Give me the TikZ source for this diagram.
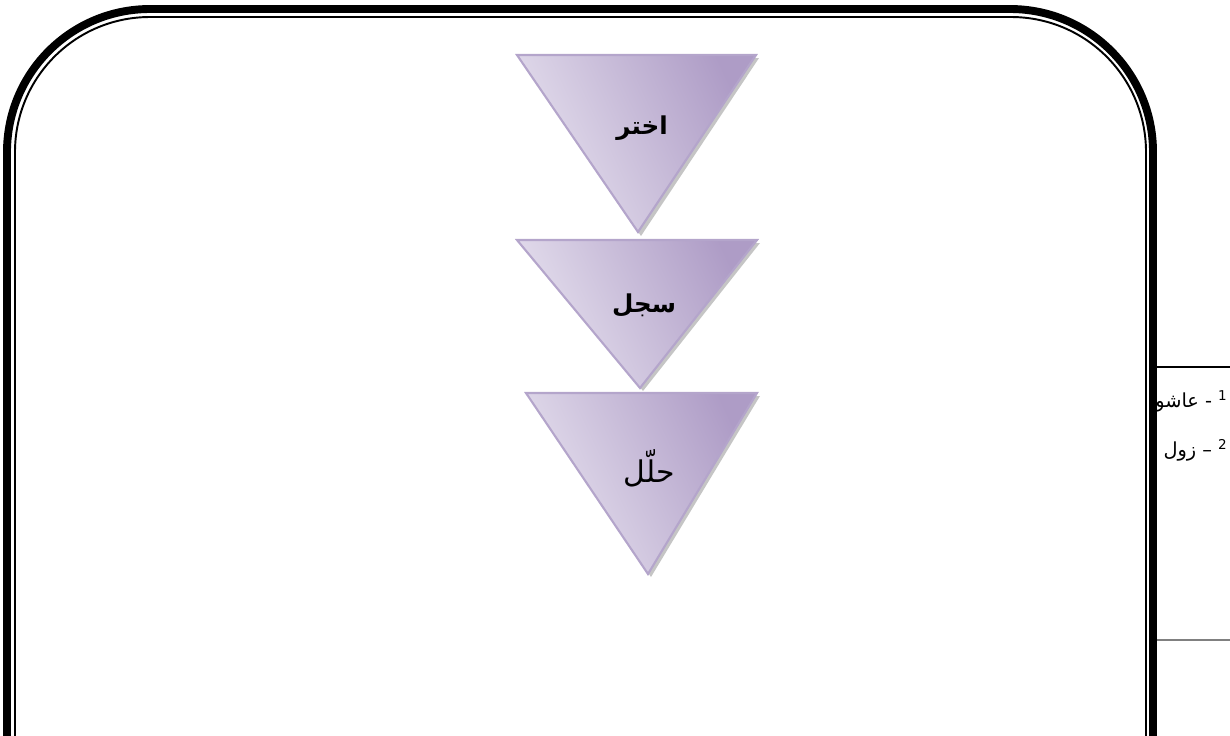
\documentclass[tikz,border=0pt]{standalone}
\usepackage{fontspec}
\setmainfont{DejaVu Sans}
\newfontfamily\arabicfont[Script=Arabic]{DejaVu Sans}
\TeXXeTstate=1
\usepackage{xcolor}
\usetikzlibrary{positioning,calc}
\definecolor{lavlight}{HTML}{E7E2EF}
\definecolor{lavmid}{HTML}{D9D1E5}
\definecolor{lavdark}{HTML}{AE9CC6}
\definecolor{lavedge}{HTML}{B4A5CB}

\begin{document}
\begin{tikzpicture}[x=0.02cm,y=-0.02cm,
    tri/.style={draw=lavedge,line width=1.2pt,line join=miter,
                left color=lavlight,middle color=lavmid,right color=lavdark,shading angle=115},
    trishadow/.style={fill=black!45,opacity=0.5},
    word/.style={font=\arabicfont\fontsize{14}{16}\selectfont\bfseries,inner sep=0pt},
    note/.style={font=\arabicfont\fontsize{11}{13}\selectfont,inner sep=0pt,anchor=base east}]
      \useasboundingbox (0,0) rectangle (1230,735);

      % the three steps
      \fill[trishadow] (520,58) -- (759,58) -- (641,236) -- cycle;
      \path[tri] (517,55) -- (756,55) -- (638,232) -- cycle;
      \fill[trishadow] (520,243) -- (760,243) -- (643,391) -- cycle;
      \path[tri] (517,240) -- (757,240) -- (640,388) -- cycle;
      \fill[trishadow] (529,396) -- (760,396) -- (651,577) -- cycle;
      \path[tri] (526,393) -- (757,393) -- (648,574) -- cycle;

      \node[word] (choose) at (642,128) {\beginR اختر\endR};
      \node[word] (record) at (644,305) {\beginR سجل\endR};
      \node[word,font=\arabicfont\fontsize{17}{19}\selectfont] (analyse) at (649,468) {\beginR حلّل\endR};

      % footnotes behind the frame
      \draw[line width=0.6pt] (1157,367) -- (1230,367);
      \draw[gray,line width=1.1pt] (1157,640) -- (1230,640);
      \begin{scope}
        \clip (1157,0) rectangle (1230,735);
        \node[note] (fnone) at (1228,407) {\beginR\textsuperscript{1} - عاشو\endR};
        \node[note] (fntwo) at (1228,456) {\beginR\textsuperscript{2} – زول\endR};
      \end{scope}

      % page frame
      \draw[line width=4.5pt,rounded corners=2.86cm] (7,740) -- (7,9) -- (1153,9) -- (1153,740);
      \draw[line width=1.1pt,rounded corners=2.7cm] (15,740) -- (15,17) -- (1146,17) -- (1146,740);
    \end{tikzpicture}
\end{document}
